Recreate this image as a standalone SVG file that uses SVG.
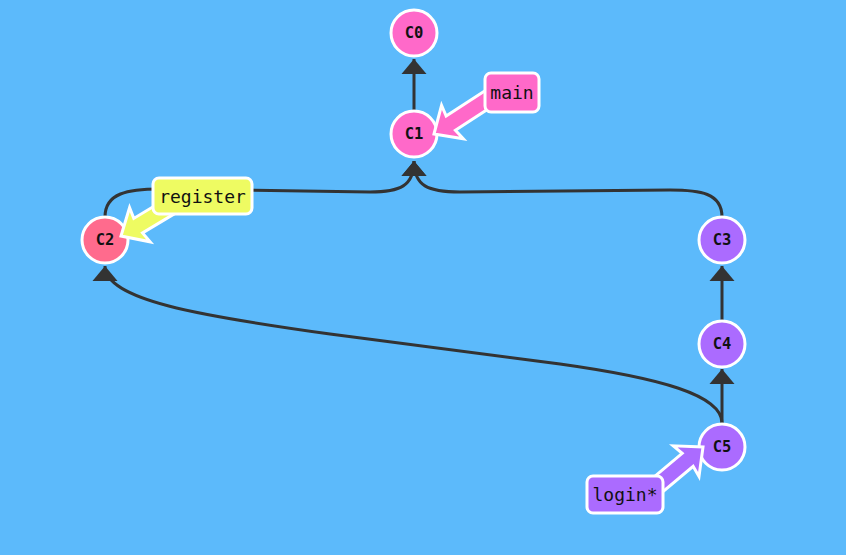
<svg xmlns="http://www.w3.org/2000/svg" width="846" height="555" viewBox="0 0 846 555">
<style>
.edge{fill:none;stroke:#333;stroke-width:3}
.node circle{stroke:#fff;stroke-width:3}
.node text{font-family:"DejaVu Sans Mono",monospace;font-weight:bold;font-size:15.5px;fill:#111;text-anchor:middle;dominant-baseline:central}
.lbl rect{stroke:#fff;stroke-width:3}
.fat{stroke:#fff;stroke-width:3;stroke-linejoin:miter}
.lbl text{font-family:"DejaVu Sans Mono",monospace;font-size:18px;fill:#111;text-anchor:middle;dominant-baseline:central}
.pink{fill:#ff69c9}
.red{fill:#ff6b8d}
.purple{fill:#ab6bff}
.yellow{fill:#eefb62}
</style>
<defs>
<marker id="ah" markerUnits="userSpaceOnUse" markerWidth="16" markerHeight="26" refX="15" refY="13" orient="auto" viewBox="0 0 16 26">
<path d="M0,0.5 L15,13 L0,25.5 Z" fill="#333"/>
</marker>
<polygon id="fat" points="0,0 22,-20 20,-8.5 75,-8.5 75,8.5 20,8.5 22,20"/>
</defs>
<rect width="846" height="555" fill="#5cbafb"/>
<g id="connectors">
<path class="edge" d="M414,110 L414,59" marker-end="url(#ah)"/>
<path class="edge" d="M105,217 C105,193 128,189 160,189 L370,192 C400,192 414,186 414,161" marker-end="url(#ah)"/>
<path class="edge" d="M722,217 C722,193 700,190 670,190 L460,192 C428,192 414,186 414,161" marker-end="url(#ah)"/>
<path class="edge" d="M722,423 C722,395 660,378 560,364 L330,334 C200,316 105,300 105,266" marker-end="url(#ah)"/>
<path class="edge" d="M722,320 L722,266" marker-end="url(#ah)"/>
<path class="edge" d="M722,423 L722,369" marker-end="url(#ah)"/>
</g>
<g id="C0" class="node"><circle class="pink" cx="414" cy="33" r="23"/><text x="414" y="33">C0</text></g>
<g id="C1" class="node"><circle class="pink" cx="414" cy="134" r="23"/><text x="414" y="134">C1</text></g>
<g id="C2" class="node"><circle class="red" cx="105" cy="240" r="23"/><text x="105" y="240">C2</text></g>
<g id="C3" class="node"><circle class="purple" cx="722" cy="240" r="23"/><text x="722" y="240">C3</text></g>
<g id="C4" class="node"><circle class="purple" cx="722" cy="344" r="23"/><text x="722" y="344">C4</text></g>
<g id="C5" class="node"><circle class="purple" cx="722" cy="447" r="23"/><text x="722" y="447">C5</text></g>
<g id="main" class="lbl">
<use href="#fat" class="pink fat" transform="translate(434,134) rotate(-33)"/>
<rect class="pink" x="485" y="73" width="54" height="39" rx="6"/>
<text x="512" y="92.5">main</text>
</g>
<g id="register" class="lbl">
<use href="#fat" class="yellow fat" transform="translate(121,236) rotate(-31)"/>
<rect class="yellow" x="153" y="178" width="99" height="36" rx="6"/>
<text x="202.5" y="196">register</text>
</g>
<g id="login" class="lbl">
<use href="#fat" class="purple fat" transform="translate(703,447) rotate(140)"/>
<rect class="purple" x="587" y="476" width="76" height="37" rx="6"/>
<text x="625" y="494.5">login*</text>
</g>
</svg>
